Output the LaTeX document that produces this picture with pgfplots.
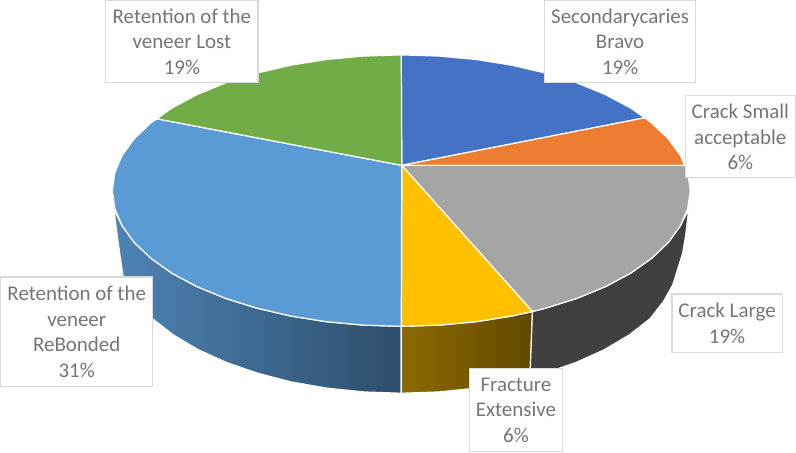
\documentclass[border=0pt]{standalone}
\usepackage{pgfplots}
\usepackage{fontspec}
\pgfplotsset{compat=1.18}
\setmainfont{Carlito}
\definecolor{cblue}{HTML}{4472C4}
\definecolor{corange}{HTML}{ED7D31}
\definecolor{cgray}{HTML}{A5A5A5}
\definecolor{cyellow}{HTML}{FFC000}
\definecolor{csky}{HTML}{5B9BD5}
\definecolor{cgreen}{HTML}{70AD47}
\definecolor{labeltext}{HTML}{767676}
\definecolor{labelbox}{HTML}{D9D9D9}
\begin{document}
\begin{tikzpicture}[
  lab/.style={draw=labelbox, line width=1.2bp, fill=white, text=labeltext,
    align=center, inner sep=0pt, font=\fontsize{21}{25.7}\selectfont}
]
\begin{axis}[
  scale only axis,
  width=796bp, height=453bp,
  xmin=0, xmax=796, ymin=0, ymax=453,
  y dir=reverse,
  hide axis,
  clip=false,
  no markers,
  every axis plot/.append style={line join=round, line width=1.2bp, draw=white}
]
% side walls
\addplot[left color=csky!85!black, right color=csky!50!black] coordinates {
  (402,326.2) (364.4,325) (327.3,321.6) (291.6,315.9) (257.7,308) (226.4,298.2) (198,286.5)
  (173.1,273.2) (152.2,258.4) (135.5,242.6) (123.3,225.8) (115,209)
  (119,240) (124,275) (129,289) (136.8,301) (153.5,318.5) (174.3,334.7)
  (199,349.4) (227.3,362.2) (258.5,373) (292.2,381.7) (327.7,387.9) (364.5,391.7) (402,393)
} -- cycle;
\addplot[left color=cyellow!55!black, right color=cyellow!38!black] coordinates {
  (402,326.2) (439.6,325) (476.7,321.6) (512.4,315.9) (533,311.4)
  (530.5,376.8) (511.8,381.7) (476.3,387.9) (439.5,391.7) (402,393)
} -- cycle;
\addplot[fill=black!75] coordinates {
  (533,311.4) (546.3,308) (577.6,298.2) (606,286.5) (630.9,273.2) (651.8,258.4) (668.5,242.6)
  (680.7,225.8) (689,209)
  (686,235) (683,253) (673,285) (664,301) (650.5,318.5) (629.7,334.7) (605,349.4)
  (576.7,362.2) (545.5,373) (530.5,376.8)
} -- cycle;
% top face, clockwise from twelve o'clock
\addplot[fill=cblue] coordinates {
  (402.5,165.5) (402,55.2) (439.6,56.4) (476.7,59.8) (512.4,65.5) (546.3,73.4) (577.6,83.2)
  (606,94.9) (630.9,108.2) (645,118)
} -- cycle;
\addplot[fill=corange] coordinates {
  (402.5,165.5) (645,118) (651.8,123) (668.5,138.8) (680.7,155.6) (685,165.5)
} -- cycle;
\addplot[fill=cgray] coordinates {
  (402.5,165.5) (685,165.5) (688,173) (690.5,190.7) (688,208.4) (680.7,225.8) (668.5,242.6)
  (651.8,258.4) (630.9,273.2) (606,286.5) (577.6,298.2) (546.3,308) (533,311.4)
} -- cycle;
\addplot[fill=cyellow] coordinates {
  (402.5,165.5) (533,311.4) (512.4,315.9) (476.7,321.6) (439.6,325) (402,326.2)
} -- cycle;
\addplot[fill=csky] coordinates {
  (402.5,165.5) (402,326.2) (364.4,325) (327.3,321.6) (291.6,315.9) (257.7,308) (226.4,298.2)
  (198,286.5) (173.1,273.2) (152.2,258.4) (135.5,242.6) (123.3,225.8) (116,208.4) (113.5,190.7)
  (116,173) (123.3,155.6) (135.5,138.8) (152.2,123) (158,119)
} -- cycle;
\addplot[fill=cgreen] coordinates {
  (402.5,165.5) (158,119) (173.1,108.2) (198,94.9) (226.4,83.2) (257.7,73.4) (291.6,65.5)
  (327.3,59.8) (364.4,56.4) (402,55.2)
} -- cycle;
% data labels
\node[lab, minimum width=151bp, minimum height=82bp] at (axis cs:620.5,42) {Secondarycaries\\Bravo\\19\%};
\node[lab, minimum width=110bp, minimum height=82bp] at (axis cs:740.5,137) {Crack Small\\acceptable\\6\%};
\node[lab, minimum width=110bp, minimum height=58bp] at (axis cs:727.3,323) {Crack Large\\19\%};
\node[lab, minimum width=93bp, minimum height=83bp] at (axis cs:516.5,410) {Fracture\\Extensive\\6\%};
\node[lab, minimum width=152bp, minimum height=109bp] at (axis cs:78,331.5) {Retention of the\\veneer\\ReBonded\\31\%};
\node[lab, minimum width=152bp, minimum height=82bp] at (axis cs:183,42) {Retention of the\\veneer Lost\\19\%};
\end{axis}
\end{tikzpicture}
\end{document}
